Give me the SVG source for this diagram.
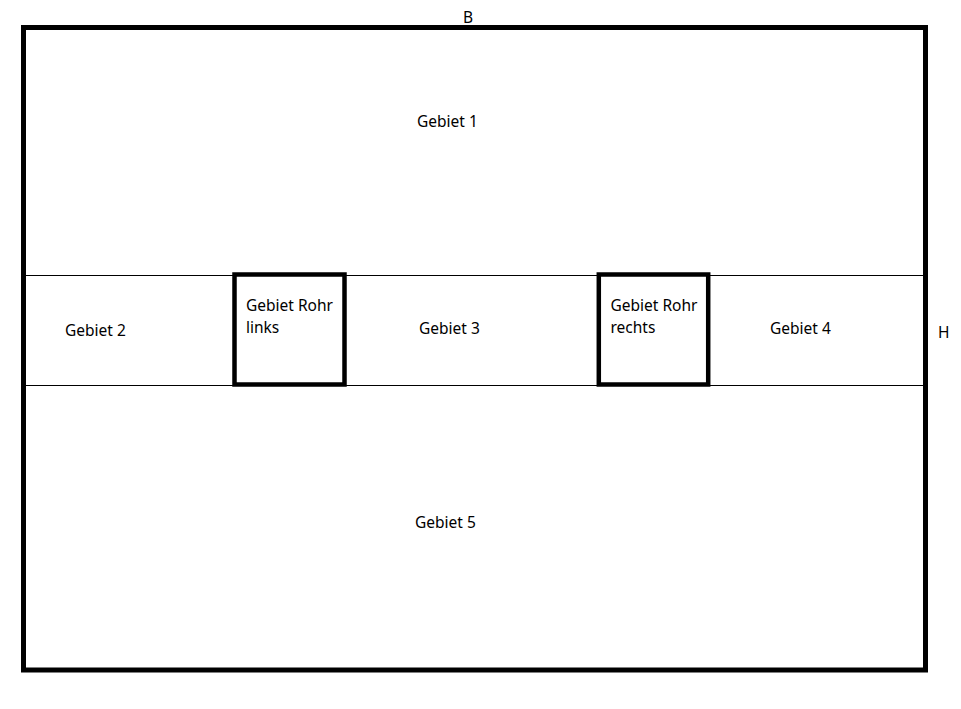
<svg xmlns="http://www.w3.org/2000/svg" width="961" height="709" viewBox="0 0 961 709">
<style>
text{font-family:"Noto Sans","Open Sans","DejaVu Sans",sans-serif;font-size:15.5px;fill:#000}
.thin{stroke:#000;stroke-width:1;fill:none}
.box{stroke:#000;stroke-width:4.5;fill:#fff}
</style>
<rect width="961" height="709" fill="#fff"/>
<g id="outer">
<rect x="23.5" y="27.5" width="902" height="642.5" fill="none" stroke="#000" stroke-width="5"/>
</g>
<g id="connectors">
<line class="thin" x1="26" y1="275.5" x2="923" y2="275.5"/>
<line class="thin" x1="26" y1="385.5" x2="923" y2="385.5"/>
</g>
<g id="gebiet1"><text x="417" y="126.5">Gebiet 1</text></g>
<g id="gebiet2"><text x="65" y="336">Gebiet 2</text></g>
<g id="rohr-links">
<rect class="box" x="234.5" y="274.5" width="110" height="110"/>
<text x="246" y="310.5">Gebiet Rohr</text>
<text x="246" y="332.5">links</text>
</g>
<g id="gebiet3"><text x="419" y="334">Gebiet 3</text></g>
<g id="rohr-rechts">
<rect class="box" x="598.8" y="274.5" width="109.4" height="110"/>
<text x="610.5" y="310.5">Gebiet Rohr</text>
<text x="610.5" y="332.5">rechts</text>
</g>
<g id="gebiet4"><text x="770" y="334">Gebiet 4</text></g>
<g id="gebiet5"><text x="415" y="528">Gebiet 5</text></g>
<g id="label-b"><text x="463" y="22.5">B</text></g>
<g id="label-h"><text x="938" y="337.5">H</text></g>
</svg>
